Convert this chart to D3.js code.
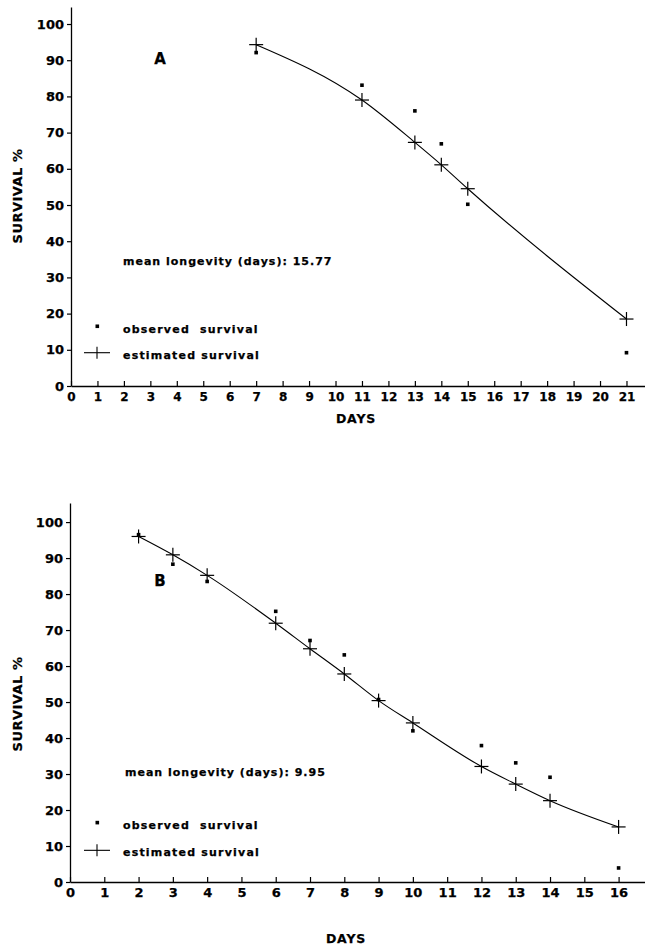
<!DOCTYPE html>
<html lang="en">
<head>
<meta charset="utf-8">
<title>Survival</title>
<script src="https://cdn.jsdelivr.net/npm/d3@7"></script>
<style>
  body { margin: 0; background: #fff; }
  text { font-family: "DejaVu Sans", sans-serif; font-weight: bold; fill: #000; stroke: #000; stroke-width: 0.25px; }
</style>
</head>
<body>
<script>
// panel A
var daysA = [7, 11, 13, 14, 15, 21];
var estA = [94.3, 79.0, 67.3, 61.1, 54.5, 18.5];
var obsA = [92.1, 83.1, 76.0, 66.9, 50.2, 9.2];
var xTicksA = d3.range(0, 22);

// panel B
var daysB = [2, 3, 4, 6, 7, 8, 9, 10, 12, 13, 14, 16];
var estB = [96.0, 90.9, 85.2, 71.9, 64.8, 57.8, 50.4, 44.2, 32.1, 27.2, 22.6, 15.3];
var obsB = [96.5, 88.3, 83.5, 75.2, 67.1, 63.1, 50.7, 42.0, 37.9, 33.1, 29.1, 3.9];
var xTicksB = d3.range(0, 17);

var yTicks = d3.range(0, 101, 10);

var width = 645, height = 946;
var svg = d3.select("body").append("svg")
    .attr("width", width)
    .attr("height", height);

function cross(g, cx, cy, r) {
    g.append("line").attr("x1", cx - r).attr("x2", cx + r).attr("y1", cy).attr("y2", cy)
        .attr("stroke", "#000").attr("stroke-width", 1.2);
    g.append("line").attr("x1", cx).attr("x2", cx).attr("y1", cy - r).attr("y2", cy + r)
        .attr("stroke", "#000").attr("stroke-width", 1.2);
}

function drawPanel(p) {
    var g = svg.append("g");
    var x = d3.scaleLinear().domain(p.xDomain).range([p.left, width]);
    var y = d3.scaleLinear().domain(p.yDomain).range([p.bottom, p.top]);

    // x axis, ticks point up
    var xa = g.append("g")
        .attr("transform", "translate(0," + p.bottom + ")")
        .call(d3.axisBottom(x).tickValues(p.xTicks).tickSize(-5).tickPadding(6).tickSizeOuter(0));
    xa.selectAll("text").style("font-size", p.xFont + "px");
    xa.select(".domain").attr("stroke-width", 1.3);

    // y axis
    var ya = g.append("g")
        .attr("transform", "translate(" + p.left + ",0)")
        .call(d3.axisLeft(y).tickValues(yTicks).tickSize(4).tickPadding(3).tickSizeOuter(0));
    ya.selectAll("text").style("font-size", "13px");
    ya.select(".domain").attr("stroke-width", 1.3);
    svg.selectAll(".tick line").attr("stroke-width", 1.2);

    g.append("text")
        .attr("x", p.xTitle[0]).attr("y", p.xTitle[1])
        .attr("text-anchor", "middle")
        .style("font-size", "12.5px")
        .style("letter-spacing", "0.8px")
        .text("DAYS");

    g.append("text")
        .attr("transform", "translate(" + 22 + "," + p.yTitleY + ") rotate(-90)")
        .attr("text-anchor", "middle")
        .style("font-size", "13px")
        .style("letter-spacing", "0.5px")
        .text("SURVIVAL %");

    g.append("text")
        .attr("x", 160).attr("y", p.letterY)
        .attr("text-anchor", "middle")
        .style("font-size", "15px")
        .text(p.letter);

    // estimated curve
    var pts = p.days.map(function(d, i) { return [x(d), y(p.est[i])]; });
    g.append("path")
        .attr("d", d3.line().curve(d3.curveMonotoneX)(pts))
        .attr("fill", "none")
        .attr("stroke", "#000")
        .attr("stroke-width", 1.1);

    pts.forEach(function(pt) { cross(g, pt[0], pt[1], 7); });

    // observed
    g.selectAll("rect.obs")
        .data(p.days)
        .enter().append("rect")
        .attr("class", "obs")
        .attr("x", function(d) { return x(d) - 1.8; })
        .attr("y", function(d, i) { return y(p.obs[i]) - 1.8; })
        .attr("width", 3.6)
        .attr("height", 3.6)
        .attr("fill", "#000");

    // mean longevity note
    g.append("text")
        .attr("x", p.noteX).attr("y", y(p.noteY))
        .attr("dy", "0.35em")
        .style("font-size", "11px")
        .style("letter-spacing", "1px")
        .text("mean longevity (days): " + p.mean);

    // legend
    var ly1 = y(p.legY[0]), ly2 = y(p.legY[1]);
    g.append("rect").attr("x", 95.5).attr("y", ly1 - 1.8).attr("width", 3.6).attr("height", 3.6).attr("fill", "#000");
    g.append("line").attr("x1", 84).attr("x2", 110).attr("y1", ly2).attr("y2", ly2)
        .attr("stroke", "#000").attr("stroke-width", 1.1);
    g.append("line").attr("x1", 97).attr("x2", 97).attr("y1", ly2 - 6).attr("y2", ly2 + 6)
        .attr("stroke", "#000").attr("stroke-width", 1.1);
    g.append("text").attr("x", 123).attr("y", ly1 + 3).attr("dy", "0.35em")
        .style("font-size", "11px").style("letter-spacing", "1.2px")
        .attr("xml:space", "preserve")
        .text("observed  survival");
    g.append("text").attr("x", 123).attr("y", ly2 + 2).attr("dy", "0.35em")
        .style("font-size", "11px").style("letter-spacing", "1.2px")
        .text("estimated survival");
}

drawPanel({
    left: 71, top: 7, bottom: 386,
    xDomain: [0, 21.7], yDomain: [0, 104.7],
    xTicks: xTicksA, xFont: 12,
    days: daysA, est: estA, obs: obsA,
    letter: "A", letterY: 64,
    xTitle: [356, 423], yTitleY: 196,
    noteX: 123, noteY: 34.5, mean: "15.77",
    legY: [16.5, 9.2]
});

drawPanel({
    left: 70, top: 503, bottom: 882,
    xDomain: [0, 16.77], yDomain: [0, 105.3],
    xTicks: xTicksB, xFont: 13,
    days: daysB, est: estB, obs: obsB,
    letter: "B", letterY: 586,
    xTitle: [346, 943], yTitleY: 704,
    noteX: 125, noteY: 30.6, mean: "9.95",
    legY: [16.5, 8.8]
});
</script>
</body>
</html>
